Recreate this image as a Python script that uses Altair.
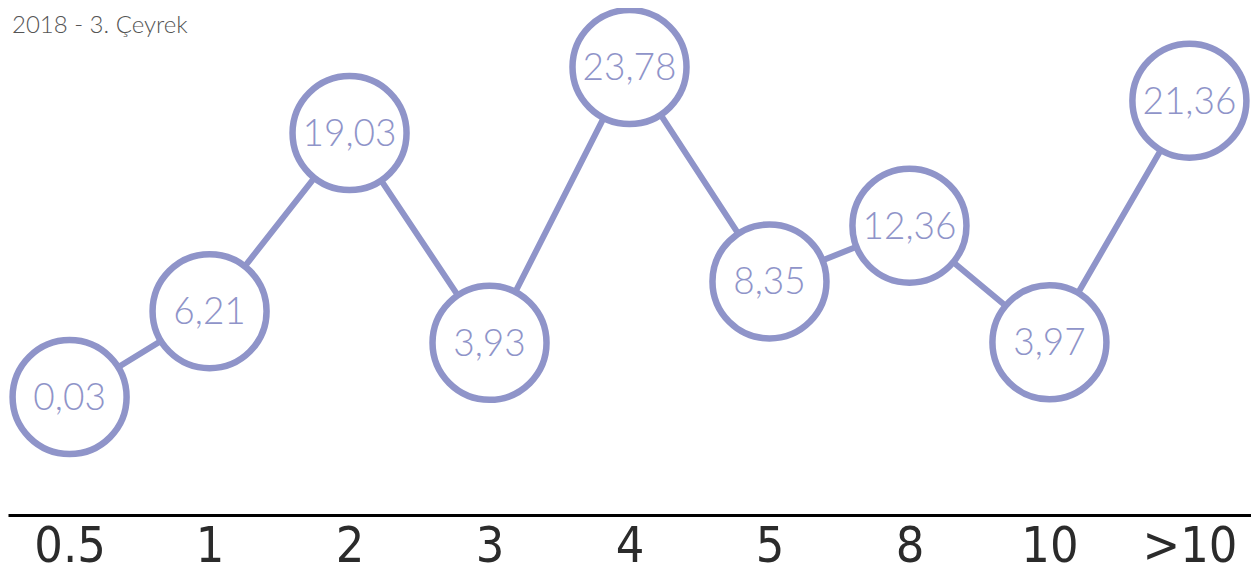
import altair as alt
import pandas as pd

categories = ["0.5", "1", "2", "3", "4", "5", "8", "10", ">10"]
values = [0.03, 6.21, 19.03, 3.93, 23.78, 8.35, 12.36, 3.97, 21.36]
value_labels = ["0,03", "6,21", "19,03", "3,93", "23,78", "8,35", "12,36", "3,97", "21,36"]
title_text = "2018 - 3. Çeyrek"

df = pd.DataFrame({"cat": categories, "val": values, "lab": value_labels})

COLOR = "#8f94c9"

x = alt.X("cat:N", sort=categories, title=None,
          scale=alt.Scale(type="point", padding=0.44),
          axis=alt.Axis(domain=True, domainColor="#000000", domainWidth=3,
                        ticks=False, grid=False, labelAngle=0,
                        labelFont="Liberation Sans Narrow, DejaVu Sans Condensed, sans-serif",
                        labelFontSize=50, labelColor="#2b2b2b", labelPadding=6,
                        labelBaseline="top"))
y = alt.Y("val:Q", scale=alt.Scale(domain=[-8.46, 28.03], nice=False, zero=False),
          axis=None)

base = alt.Chart(df)

line = base.mark_line(color=COLOR, strokeWidth=6).encode(x=x, y=y)
pts = base.mark_point(shape="circle", size=12996, filled=True, fill="white",
                      stroke=COLOR, strokeWidth=6.5, opacity=1).encode(x=x, y=y)
txt = base.mark_text(font="Lato", fontWeight=300, fontSize=37, color=COLOR,
                     baseline="middle", align="center", dy=2).encode(x=x, y=y, text="lab:N")

title_df = pd.DataFrame({"t": [title_text]})
title = alt.Chart(title_df).mark_text(font="Lato", fontWeight=300, fontSize=24,
                                      color="#555555", align="left",
                                      baseline="top").encode(
    x=alt.value(4), y=alt.value(6), text="t:N")

chart = alt.layer(line, pts, txt, title).properties(
    width=1243, height=507,
    autosize=alt.AutoSizeParams(type="none"),
    padding={"left": 0, "top": 0, "right": 0, "bottom": 58},
).configure_view(stroke=None)

chart.save("out.html", embed_options={"renderer": "svg", "actions": False})
